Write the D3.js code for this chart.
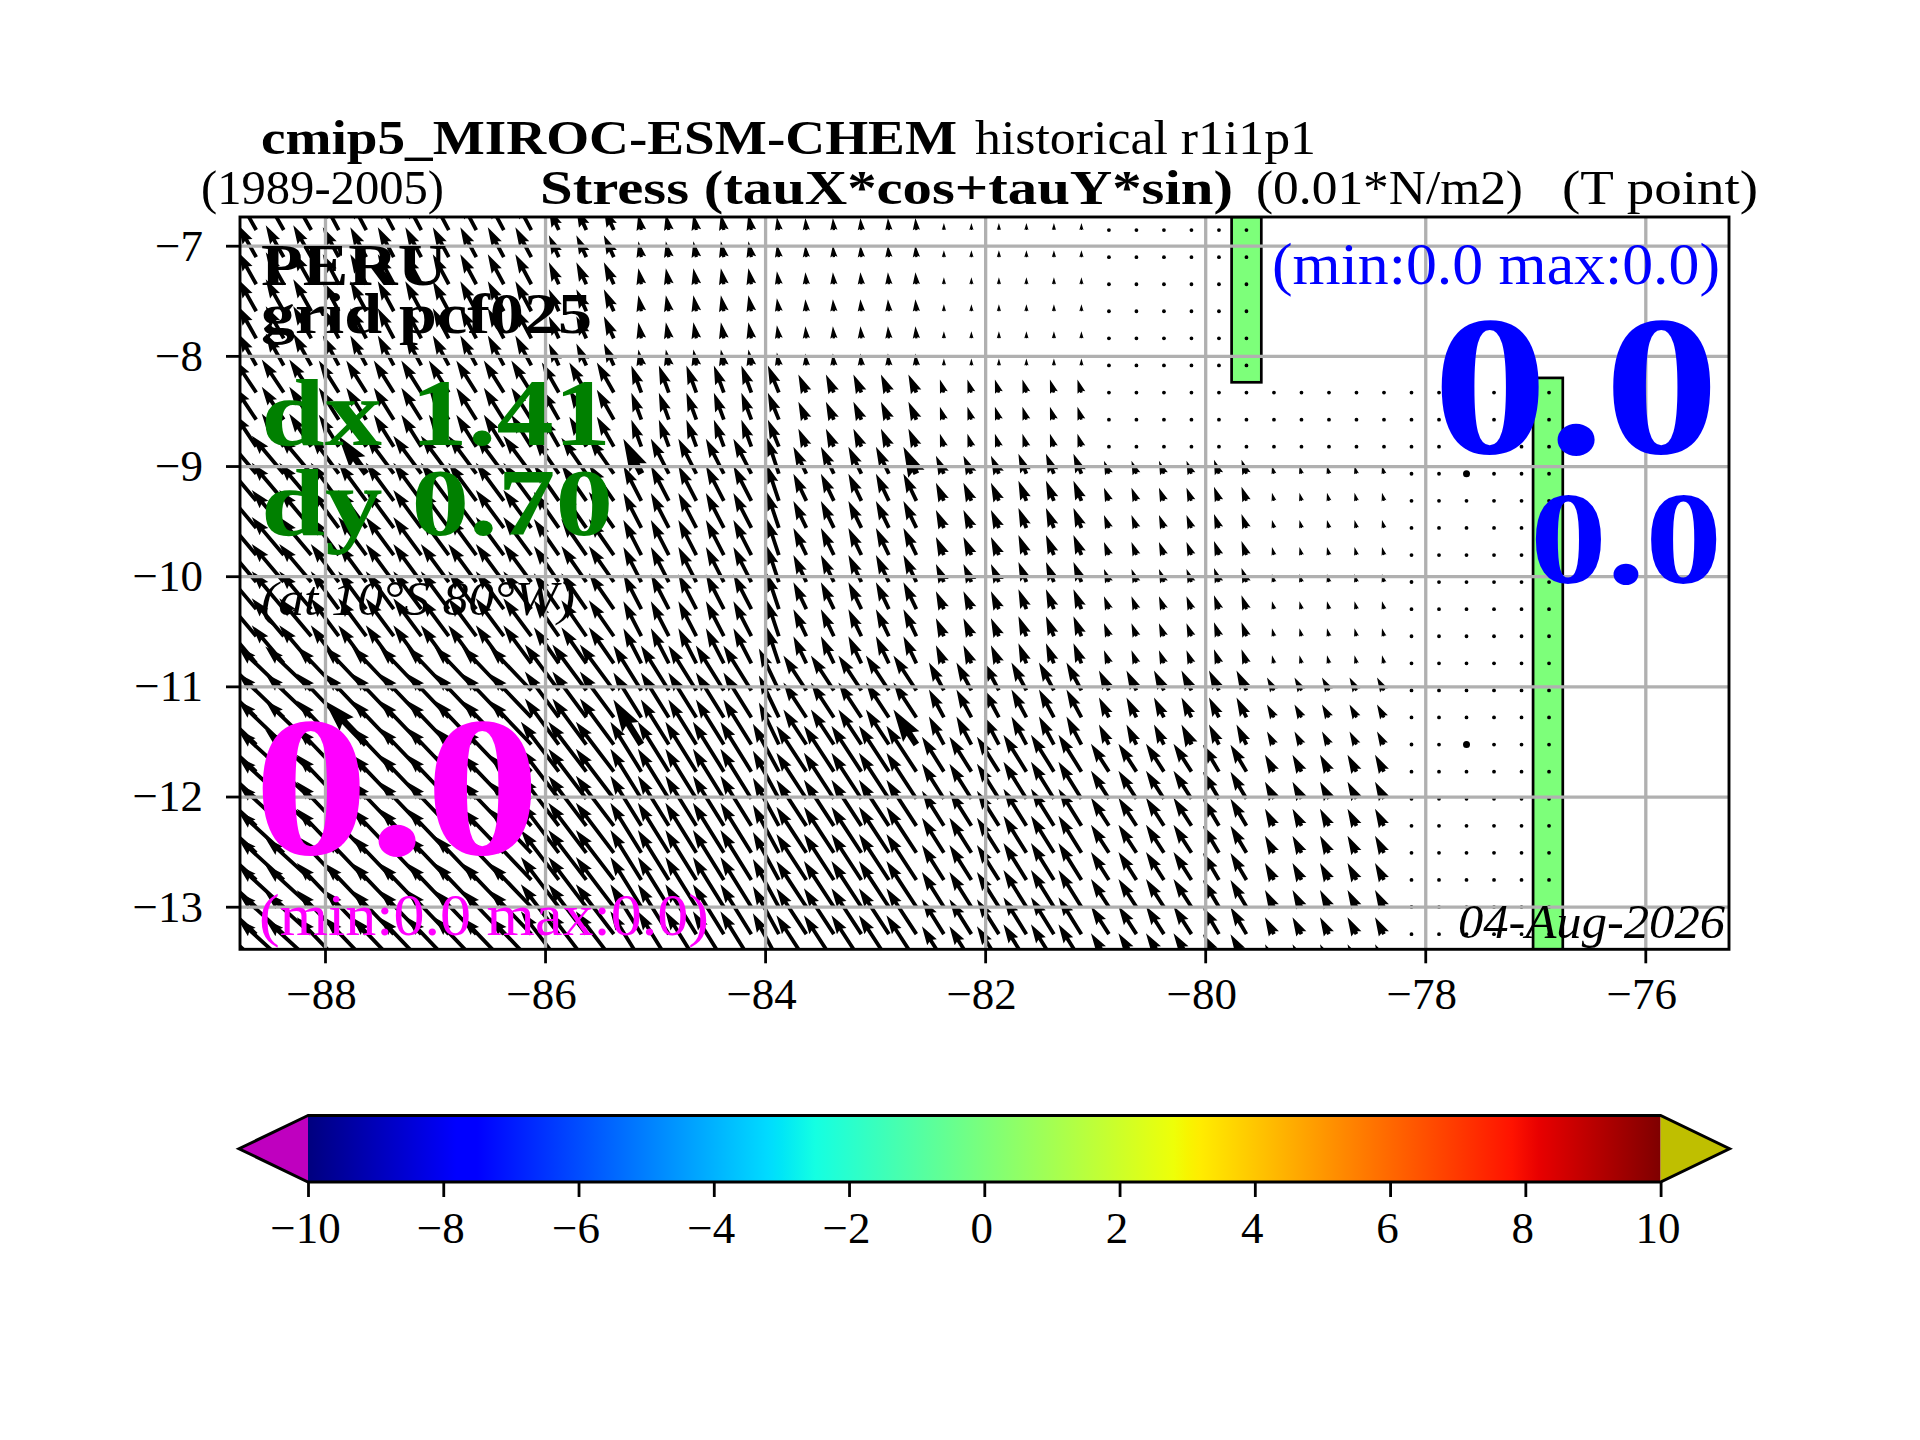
<!DOCTYPE html>
<html>
<head>
<meta charset="utf-8">
<script src="https://cdn.jsdelivr.net/npm/d3@7"></script>
<style>
  body { margin: 0; background: #fff; }
  text { font-family: "Liberation Serif", serif; }
</style>
</head>
<body>
<svg id="chart" width="1920" height="1440"></svg>
<script>
// grid of the stress vectors (T points)
const gridLons = [-88.875,-88.625,-88.375,-88.125,-87.875,-87.625,-87.375,-87.125,-86.875,-86.625,
  -86.375,-86.125,-85.875,-85.625,-85.375,-85.125,-84.875,-84.625,-84.375,-84.125,
  -83.875,-83.625,-83.375,-83.125,-82.875,-82.625,-82.375,-82.125,-81.875,-81.625,
  -81.375,-81.125,-80.875,-80.625,-80.375,-80.125,-79.875,-79.625,-79.375,-79.125,
  -78.875,-78.625,-78.375,-78.125,-77.875,-77.625,-77.375,-77.125,-76.875];
const gridLats = [-6.858,-7.104,-7.35,-7.595,-7.841,-8.087,-8.333,-8.579,-8.824,-9.07,
  -9.316,-9.562,-9.808,-10.053,-10.299,-10.545,-10.791,-11.037,-11.282,-11.528,
  -11.774,-12.02,-12.266,-12.511,-12.757,-13.003,-13.249,-13.495];

// which block of the table below each column / row reads from
const columnBand = [0,0,0,0,1,1,1,1,1,1,1,1,2,2,2,3,3,3,3,3,4,5,5,5,5,5,6,6,6,7,7,7,8,8,8,8,9,9,10,10,10,10,10,11,11,11,11,11,11];
const rowBand = [0,0,0,0,0,0,1,1,1,2,2,2,2,2,2,2,2,3,3,3,4,4,4,4,4,4,4,4];

// tauX and tauY, per row block and column block (null = no data)
const tauX = [
  [-9,-8,-5,-1.5,-1,-0.5,0,0,0,0,null,null],
  [-11,-10,-8.5,-5,-5.5,-4,-2,-2,0,0,0,0],
  [-16,-14,-12.5,-9,-6,-6.5,-4,-4,-2.5,-2.5,-1,0],
  [-23,-21,-17,-14,-10,-11.5,-7.5,-7.5,-5,-5,-3.5,0],
  [-23,-21,-19,-15.5,-13,-15,-11,-11.5,-9,-8,-4.5,0]
];
const tauY = [
  [16,15,11,8,6.5,6,3.5,3.5,0,0,null,null],
  [16.5,16,15,13.5,13.5,9,6.5,6.5,0,0,0,0],
  [19,19,18,17.5,18,13.5,9,10,6.5,7,4,0],
  [22,22,23,22.5,21,17.5,14,14,10,10,6.5,0],
  [21,22,25,25,24,23,17.5,18.5,14,13.5,8.5,0]
];

// arrows drawn heavier in the original
const heavyLons = [-87.625,-85.125,-82.625,-80.125,-77.625];
const heavyLats = [-9.07,-11.528];

// land mask boxes
const maskLons = [[-79.76,-79.49],[-77.02,-76.75]];
const maskTops = [-6.739,-8.2];
const maskBottoms = [-8.24,-13.387];

const xTicks = [-88,-86,-84,-82,-80,-78,-76];
const yTicks = [-7,-8,-9,-10,-11,-12,-13];
const colorTicks = [-10,-8,-6,-4,-2,0,2,4,6,8,10];

// jet colormap
const jetOffsets = [0,0.11,0.125,0.34,0.35,0.375,0.64,0.65,0.66,0.89,0.91,1];
const jetColors = ["#00007f","#0000ff","#0000ff","#00dbff","#00e6f7","#14ffe2","#eeff08","#f7f500","#ffec00","#ff1300","#e80000","#7f0000"];

const minus = s => String(s).replace("-", "\u2212");

const svg = d3.select("#chart");

const left = 240, right = 1729, top_ = 217, bottom = 949.3;
const x = d3.scaleLinear().domain([-88, -76]).range([325, 1645.3]);
const y = d3.scaleLinear().domain([-7, -13]).range([245.7, 906.7]);
const lengthPx = d3.scaleLinear().domain([0, 10]).range([0, 20]);   // vector units -> px

svg.append("defs").append("clipPath").attr("id", "plotClip")
  .append("rect").attr("x", left).attr("y", top_).attr("width", right - left).attr("height", bottom - top_);

const plot = svg.append("g").attr("clip-path", "url(#plotClip)");

// land mask
plot.selectAll("rect.mask")
  .data(maskLons)
  .join("rect")
  .attr("class", "mask")
  .attr("x", d => x(d[0]))
  .attr("width", d => x(d[1]) - x(d[0]))
  .attr("y", (d, i) => y(maskTops[i]))
  .attr("height", (d, i) => y(maskBottoms[i]) - y(maskTops[i]))
  .attr("fill", "#7dff7a")
  .attr("stroke", "#000")
  .attr("stroke-width", 2.7);

// build one record per grid node
const vectors = [];
gridLats.forEach((lat, r) => {
  gridLons.forEach((lon, c) => {
    const u = tauX[rowBand[r]][columnBand[c]];
    const v = tauY[rowBand[r]][columnBand[c]];
    if (u === null) return;
    vectors.push({ lon, lat, u, v, heavy: heavyLons.includes(lon) && heavyLats.includes(lat) });
  });
});

// same shape as a matplotlib quiver arrow: head 3 wide, 5 long, axis 4.5 in shaft widths
function arrowPath(d) {
  const px = x(d.lon), py = y(d.lat);
  const dx = lengthPx(d.u), dy = -lengthPx(d.v);
  const len = Math.hypot(dx, dy);
  const w = d.heavy ? 6.5 : 3.8;
  const p = d3.path();
  if (len < w) {
    // too short: just a dot
    p.arc(px, py, d.heavy ? 3.5 : 1.9, 0, 2 * Math.PI);
    return p.toString();
  }
  const shrink = Math.min(1, len / (5 * w));
  const s = w * shrink;
  const pts = [[0, -0.5 * s], [len - 4.5 * s, -0.5 * s], [len - 5 * s, -1.5 * s], [len, 0],
    [len - 5 * s, 1.5 * s], [len - 4.5 * s, 0.5 * s], [0, 0.5 * s]];
  const ca = dx / len, sa = dy / len;
  pts.forEach((q, i) => {
    const qx = px + q[0] * ca - q[1] * sa;
    const qy = py + q[0] * sa + q[1] * ca;
    if (i === 0) p.moveTo(qx, qy); else p.lineTo(qx, qy);
  });
  p.closePath();
  return p.toString();
}

plot.selectAll("path.vec")
  .data(vectors)
  .join("path")
  .attr("class", "vec")
  .attr("d", arrowPath)
  .attr("fill", "#000");

// grid over the arrows
plot.append("g")
  .attr("transform", `translate(0,${top_})`)
  .call(d3.axisBottom(x).tickValues(xTicks).tickSize(bottom - top_).tickFormat(""))
  .call(g => g.select(".domain").remove())
  .call(g => g.selectAll("line").attr("stroke", "#b0b0b0").attr("stroke-width", 3.3));
plot.append("g")
  .attr("transform", `translate(${left},0)`)
  .call(d3.axisRight(y).tickValues(yTicks).tickSize(right - left).tickFormat(""))
  .call(g => g.select(".domain").remove())
  .call(g => g.selectAll("line").attr("stroke", "#b0b0b0").attr("stroke-width", 3.3));

// frame
svg.append("rect")
  .attr("x", left).attr("y", top_).attr("width", right - left).attr("height", bottom - top_)
  .attr("fill", "none").attr("stroke", "#000").attr("stroke-width", 2.9);

function styleAxis(g) {
  g.select(".domain").remove();
  g.selectAll("line").attr("stroke", "#000").attr("stroke-width", 2.8);
  g.selectAll("text").attr("fill", "#000").attr("font-size", 45).style("font-family", '"Liberation Serif", serif');
}

svg.append("g")
  .attr("transform", `translate(0,${bottom})`)
  .call(d3.axisBottom(x).tickValues(xTicks).tickSize(14).tickPadding(14).tickFormat(minus))
  .call(styleAxis)
  .call(g => g.selectAll("text").attr("dx", -4));
svg.append("g")
  .attr("transform", `translate(${left},0)`)
  .call(d3.axisLeft(y).tickValues(yTicks).tickSize(14).tickPadding(23).tickFormat(minus))
  .call(styleAxis);

// colour bar
const cbar = d3.scaleLinear().domain([-10, 10]).range([308, 1660.6]);
const cbTop = 1115.5, cbBottom = 1182, cbMid = (cbTop + cbBottom) / 2, cbLeftTip = 239, cbRightTip = 1729.5;

const grad = svg.select("defs").append("linearGradient").attr("id", "jet");
grad.selectAll("stop")
  .data(jetOffsets)
  .join("stop")
  .attr("offset", d => d)
  .attr("stop-color", (d, i) => jetColors[i]);

svg.append("rect")
  .attr("x", cbar(-10)).attr("y", cbTop).attr("width", cbar(10) - cbar(-10)).attr("height", cbBottom - cbTop)
  .attr("fill", "url(#jet)");
svg.append("path")
  .attr("d", `M${cbar(-10)},${cbTop}L${cbLeftTip},${cbMid}L${cbar(-10)},${cbBottom}Z`)
  .attr("fill", "#bf00bf");
svg.append("path")
  .attr("d", `M${cbar(10)},${cbTop}L${cbRightTip},${cbMid}L${cbar(10)},${cbBottom}Z`)
  .attr("fill", "#bfbf00");
svg.append("path")
  .attr("d", `M${cbar(-10)},${cbTop}L${cbLeftTip},${cbMid}L${cbar(-10)},${cbBottom}L${cbar(10)},${cbBottom}L${cbRightTip},${cbMid}L${cbar(10)},${cbTop}Z`)
  .attr("fill", "none").attr("stroke", "#000").attr("stroke-width", 3);

svg.append("g")
  .attr("transform", `translate(0,${cbBottom})`)
  .call(d3.axisBottom(cbar).tickValues(colorTicks).tickSize(15).tickPadding(14).tickFormat(minus))
  .call(styleAxis)
  .call(g => g.selectAll("text").attr("dx", -3));

// all the labels: text, x, baseline, width, size, colour, weight, style
const labels = [
  ["cmip5_MIROC-ESM-CHEM", 261, 154, 696, 48, "#000", "bold", "normal"],
  ["historical r1i1p1", 975, 154, 341, 48, "#000", "normal", "normal"],
  ["(1989-2005)", 201, 204, 243, 48, "#000", "normal", "normal"],
  ["Stress (tauX*cos+tauY*sin)", 540, 204, 693, 48, "#000", "bold", "normal"],
  ["(0.01*N/m2)", 1256, 204, 267, 48, "#000", "normal", "normal"],
  ["(T point)", 1562, 204, 196, 48, "#000", "normal", "normal"],
  ["PERU", 261, 285, 186, 60, "#000", "bold", "normal"],
  ["grid pcf025", 261, 333, 331, 58, "#000", "bold", "normal"],
  ["dx 1.41", 261, 445, 350, 96, "#008000", "bold", "normal"],
  ["dy 0.70", 261, 535, 352, 96, "#008000", "bold", "normal"],
  ["(at 10\u00b0S 80\u00b0W)", 261, 615, 314, 48, "#000", "normal", "italic"],
  ["0.0", 254, 854, 286, 200, "#ff00ff", "bold", "normal"],
  ["(min:0.0 max:0.0)", 259, 935, 450, 60, "#ff00ff", "normal", "normal"],
  ["(min:0.0 max:0.0)", 1272, 284, 448, 60, "#0000ff", "normal", "normal"],
  ["0.0", 1433, 453, 286, 200, "#0000ff", "bold", "normal"],
  ["0.0", 1530, 583, 192, 132, "#0000ff", "bold", "normal"],
  ["04-Aug-2026", 1458, 938, 267, 48, "#000", "normal", "italic"]
];

svg.selectAll("text.label")
  .data(labels)
  .join("text")
  .attr("class", "label")
  .text(d => d[0])
  .attr("x", d => d[1])
  .attr("y", d => d[2])
  .attr("textLength", d => d[3])
  .attr("lengthAdjust", "spacingAndGlyphs")
  .attr("font-size", d => d[4])
  .attr("fill", d => d[5])
  .attr("font-weight", d => d[6])
  .attr("font-style", d => d[7]);
</script>
</body>
</html>
